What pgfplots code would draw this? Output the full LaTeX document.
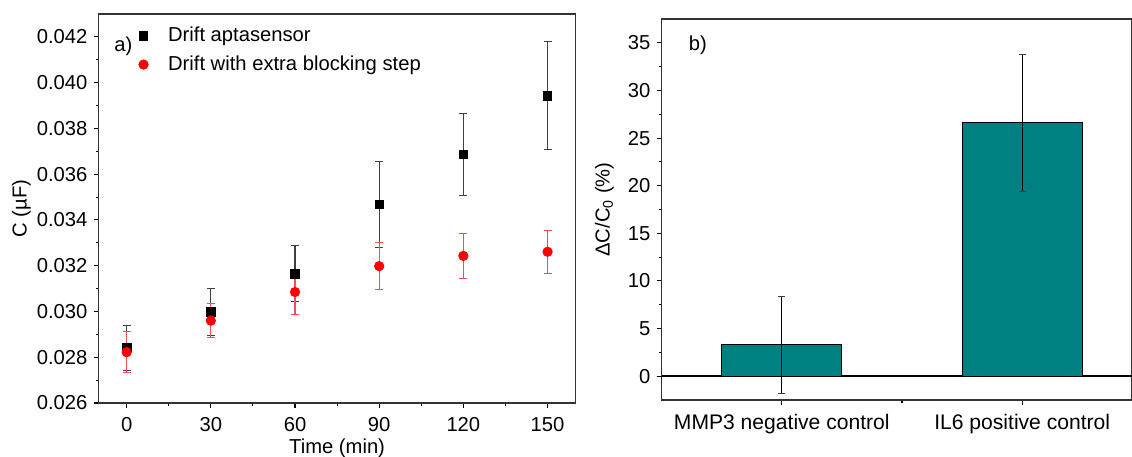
\documentclass[border=0pt]{standalone}
\usepackage{fontspec}
\setmainfont{Liberation Sans}
\usepackage{pgfplots}
\pgfplotsset{compat=1.18}
\definecolor{barteal}{HTML}{008080}
\definecolor{errgray}{HTML}{404040}
\definecolor{errred}{HTML}{F05050}

\pgfplotsset{
  panel/.style={
    scale only axis,
    font=\fontsize{11.5}{13.5}\selectfont,
    tick align=outside, xtick pos=bottom, ytick pos=left,
    major tick length=0.1cm, minor tick length=0.06cm,
    axis line style={line width=0.8pt, black!80},
    every tick/.style={black, line width=0.6pt},
    /pgf/number format/assume math mode=true,
  }
}

\begin{document}
\begin{tikzpicture}
\useasboundingbox (0,0) rectangle (22.64cm,9.12cm);

% a) drift over time
\begin{axis}[panel,
  at={(1.972cm,1.06cm)}, anchor=south west,
  width=9.54cm, height=7.78cm,
  xmin=-10, xmax=160, ymin=0.026, ymax=0.043,
  xtick={0,30,60,90,120,150}, minor x tick num=1,
  ytick={0.026,0.028,...,0.0425}, minor y tick num=1,
  scaled y ticks=false,
  yticklabel style={/pgf/number format/.cd, fixed, fixed zerofill, precision=3},
  xticklabel style={yshift=-0.07cm},
  xlabel={Time (min)}, ylabel={C (µF)},
  xlabel style={yshift=0.11cm},
  ylabel style={yshift=-0.12cm},
  legend style={at={(rel axis cs:0.072,0.985)}, anchor=north west,
                draw=none, fill=none, row sep=2.5pt,
                nodes={inner sep=2pt}},
  legend cell align=left,
  legend image code/.code={\path[draw=none] (-0.1cm,0cm) rectangle (0.42cm,0cm);
                           \draw[#1] plot[only marks] coordinates {(0cm,0cm)};},
]
\addplot[only marks, mark=square*, mark size=2.4pt, black,
  error bars/.cd, y dir=both, y explicit,
  error bar style={errgray, line width=0.6pt},
  error mark options={rotate=90, mark size=2.3pt, errgray, line width=0.6pt}]
  coordinates {
  (0,0.02842) +- (0,0.00098)
  (30,0.02998) +- (0,0.00101)
  (60,0.03165) +- (0,0.00122)
  (90,0.03467) +- (0,0.00187)
  (120,0.03687) +- (0,0.00180)
  (150,0.03943) +- (0,0.00237)
  };
\addplot[only marks, mark=*, mark size=2.7pt, red,
  error bars/.cd, y dir=both, y explicit,
  error bar style={errred, line width=0.6pt},
  error mark options={rotate=90, mark size=2.3pt, errred, line width=0.6pt}]
  coordinates {
  (0,0.02822) +- (0,0.00089)
  (30,0.02960) +- (0,0.00074)
  (60,0.03085) +- (0,0.00100)
  (90,0.03198) +- (0,0.00104)
  (120,0.03243) +- (0,0.00098)
  (150,0.03261) +- (0,0.00094)
  };
\legend{Drift aptasensor, Drift with extra blocking step}
\node[anchor=west] at (rel axis cs:0.02,0.918) {a)};
\end{axis}

% b) relative change
\begin{axis}[panel,
  at={(13.232cm,1.12cm)}, anchor=south west,
  width=9.40cm, height=7.62cm,
  xmin=0.5, xmax=2.455, ymin=-2.5, ymax=37.5,
  xtick={1,2}, xticklabels={MMP3 negative control, IL6 positive control},
  xticklabel style={font=\fontsize{12}{14}\selectfont, yshift=-0.06cm},
  minor xtick={1.5},
  ytick={0,5,...,35}, minor y tick num=1,
  extra y ticks={0}, extra y tick labels={},
  extra y tick style={grid=major, grid style={black, line width=1.1pt}},
  ylabel={ΔC/C\textsubscript{0} (\%)},
  ylabel style={yshift=-0.16cm},
]
\addplot[ybar, bar width=0.5, fill=barteal, draw=black, line width=0.6pt,
  error bars/.cd, y dir=both, y explicit,
  error bar style={black, line width=0.6pt},
  error mark options={rotate=90, mark size=2pt, errgray, line width=0.6pt}]
  coordinates {
  (1,3.3) +- (0,5.07)
  (2,26.6) +- (0,7.2)
  };
\node[anchor=west] at (rel axis cs:0.045,0.93) {b)};
\end{axis}
\end{tikzpicture}
\end{document}
